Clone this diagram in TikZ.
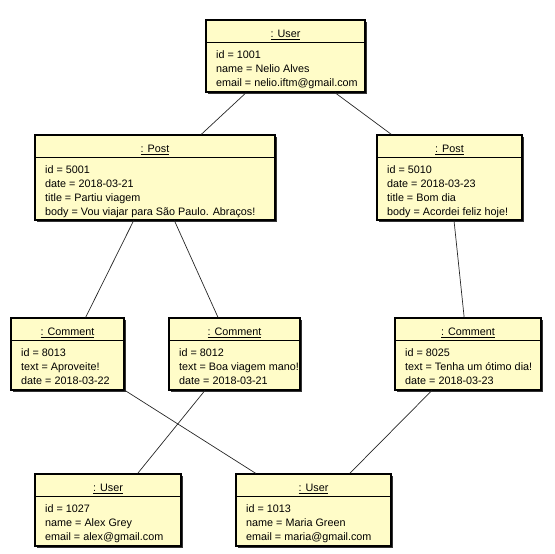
\documentclass[tikz,border=0pt]{standalone}
\usepackage{fontspec}
\setmainfont{Liberation Sans}
\usetikzlibrary{fit}
\definecolor{objfill}{HTML}{FFFCC8}
\tikzset{
 objbox/.style={draw=black, line width=1.3pt, fill=objfill, inner sep=0pt},
 shadowbox/.style={fill=black!80, draw=none},
 divline/.style={line width=0.8pt, draw=black},
 titletext/.style={font=\fontsize{10.8}{13}\selectfont, inner sep=0pt, anchor=base},
 attrtext/.style={font=\fontsize{10.8}{13}\selectfont, inner sep=0pt, anchor=base west},
 link/.style={line width=0.7pt, draw=black!85},
}
\newcommand\umlobj[7]{%
 \fill[shadowbox] (#2+2,#3+2) rectangle (#4+2,#5+2);
 \node[objbox, fit={(#2,#3)(#4,#5)}] (#1) {};
 \draw[divline] (#2,#3+22.5) -- (#4,#3+22.5);
 \node[titletext] (#1-title) at ({(#2+#4)/2},#3+17.5) {\underline{#6}};
 \foreach \t [count=\i] in {#7} {\node[attrtext] (#1-a\i) at (#2+10,#3+22.5+15.5+14*\i-14) {\t};}
}
\begin{document}
\begin{tikzpicture}[x=1pt,y=-1pt]
\useasboundingbox (0,0) rectangle (555,554);
\umlobj{u1}{206}{20}{365}{92}{: User}{id = 1001, name = Nelio Alves, email = nelio.iftm@gmail.com}
\umlobj{p1}{35}{135}{275}{220}{: Post}{id = 5001, date = 2018-03-21, title = Partiu viagem, body = Vou viajar para São Paulo. Abraços!}
\umlobj{p2}{377}{135}{522}{220}{: Post}{id = 5010, date = 2018-03-23, title = Bom dia, body = Acordei feliz hoje!}
\umlobj{c1}{11}{318}{124}{390}{: Comment}{id = 8013, text = Aproveite!, date = 2018-03-22}
\umlobj{c2}{169}{318}{300}{390}{: Comment}{id = 8012, text = Boa viagem mano!, date = 2018-03-21}
\umlobj{c3}{395}{318}{541}{390}{: Comment}{id = 8025, text = Tenha um ótimo dia!, date = 2018-03-23}
\umlobj{u2}{35}{474}{181}{546}{: User}{id = 1027, name = Alex Grey, email = alex@gmail.com}
\umlobj{u3}{236}{474}{391}{546}{: User}{id = 1013, name = Maria Green, email = maria@gmail.com}
\draw[link] (u1) -- (p1);
\draw[link] (u1) -- (p2);
\draw[link] (p1) -- (c1);
\draw[link] (p1) -- (c2);
\draw[link] (p2) -- (c3);
\draw[link] (c1) -- (u3);
\draw[link] (c2) -- (u2);
\draw[link] (c3) -- (u3);
\end{tikzpicture}
\end{document}
